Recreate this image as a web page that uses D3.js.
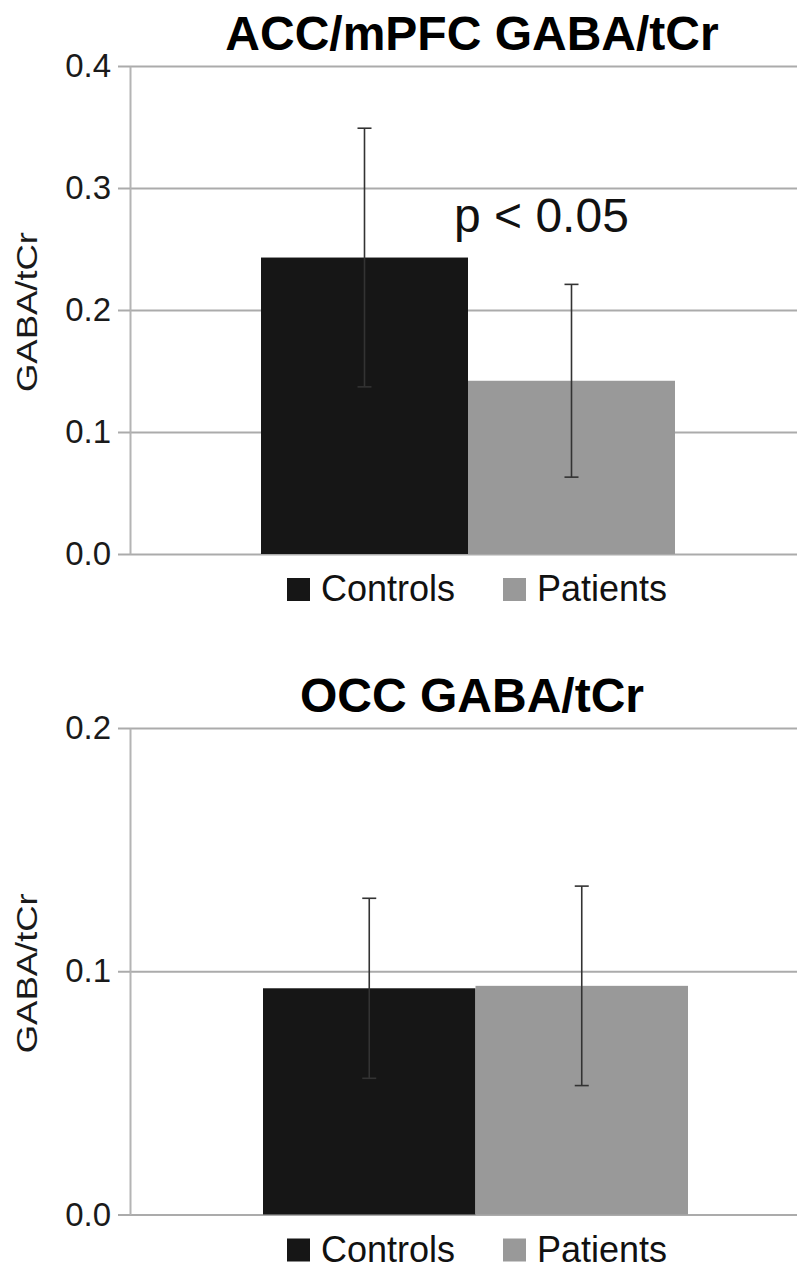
<!DOCTYPE html>
<html>
<head>
<meta charset="utf-8">
<script src="https://cdn.jsdelivr.net/npm/d3@7"></script>
<style>
  body { margin: 0; background: #fff; }
  svg text { font-family: "Liberation Sans", Arial, sans-serif; }
</style>
</head>
<body>
<div id="chart"></div>
<script>
// data
var groups = ["Controls", "Patients"];
var accMeans = [0.243, 0.142];
var accErr = [0.106, 0.079];
var accTicks = [0, 0.1, 0.2, 0.3, 0.4];
var occMeans = [0.093, 0.094];
var occErr = [0.037, 0.041];
var occTicks = [0, 0.1, 0.2];
var yLabel = "GABA/tCr";
var colors = ["#161616", "#999999"];

var W = 797, H = 1269;
var svg = d3.select("#chart").append("svg")
    .attr("width", W)
    .attr("height", H);

// panel layout (positions only)
var panels = [
    { title: "ACC/mPFC GABA/tCr", means: accMeans, err: accErr, ticks: accTicks,
      max: 0.4, top: 66, bottom: 554, bandL: 261, bandR: 675, note: "p < 0.05" },
    { title: "OCC GABA/tCr", means: occMeans, err: occErr, ticks: occTicks,
      max: 0.2, top: 728, bottom: 1214.5, bandL: 263, bandR: 688, note: null }
];
var axisX = 130;

panels.forEach(function(p) {
    var g = svg.append("g");
    var y = d3.scaleLinear().domain([0, p.max]).range([p.bottom, p.top]);
    var x = d3.scaleBand().domain(groups).range([p.bandL, p.bandR]).padding(0);

    // gridlines
    var grid = g.append("g")
        .attr("transform", "translate(" + axisX + ",0)")
        .call(d3.axisLeft(y).tickValues(p.ticks).tickSize(-(W - axisX)).tickFormat(""));
    grid.select(".domain").remove();
    grid.selectAll(".tick line").attr("stroke", "#ababab").attr("stroke-width", 2);

    // axis with outer ticks and labels
    var ax = g.append("g")
        .attr("transform", "translate(" + axisX + ",0)")
        .call(d3.axisLeft(y).tickValues(p.ticks).tickSize(12).tickSizeOuter(0)
            .tickPadding(7).tickFormat(d3.format(".1f")));
    ax.select(".domain").attr("stroke", "#b4b4b4").attr("stroke-width", 2);
    ax.selectAll(".tick line").attr("stroke", "#ababab").attr("stroke-width", 2);
    ax.selectAll(".tick text")
        .attr("font-size", "33px")
        .attr("fill", "#1a1a1a")
        .attr("font-family", "'Liberation Sans', Arial, sans-serif");

    // bars
    g.selectAll("rect.bar")
        .data(p.means)
        .enter()
        .append("rect")
        .attr("class", "bar")
        .attr("x", function(d, i) { return x(groups[i]); })
        .attr("y", function(d) { return y(d); })
        .attr("width", x.bandwidth())
        .attr("height", function(d) { return y(0) - y(d); })
        .attr("fill", function(d, i) { return colors[i]; });

    // error bars
    var eb = g.selectAll("g.err")
        .data(p.means)
        .enter()
        .append("g")
        .attr("class", "err")
        .attr("stroke", "#333")
        .attr("stroke-width", 1.6);
    eb.append("line")
        .attr("x1", function(d, i) { return x(groups[i]) + x.bandwidth() / 2; })
        .attr("x2", function(d, i) { return x(groups[i]) + x.bandwidth() / 2; })
        .attr("y1", function(d, i) { return y(d + p.err[i]); })
        .attr("y2", function(d, i) { return y(d - p.err[i]); });
    [1, -1].forEach(function(s) {
        eb.append("line")
            .attr("x1", function(d, i) { return x(groups[i]) + x.bandwidth() / 2 - 7; })
            .attr("x2", function(d, i) { return x(groups[i]) + x.bandwidth() / 2 + 7; })
            .attr("y1", function(d, i) { return y(d + s * p.err[i]); })
            .attr("y2", function(d, i) { return y(d + s * p.err[i]); });
    });

    // title
    g.append("text")
        .attr("x", 472)
        .attr("y", p.top - 16)
        .attr("text-anchor", "middle")
        .attr("font-size", "48px")
        .attr("font-weight", "bold")
        .attr("fill", "#000")
        .text(p.title);

    // y label
    g.append("text")
        .attr("transform", "translate(37," + ((p.top + p.bottom) / 2 + 2) + ") rotate(-90)")
        .attr("text-anchor", "middle")
        .attr("font-size", "30px")
        .attr("fill", "#1a1a1a")
        .attr("textLength", 160)
        .attr("lengthAdjust", "spacingAndGlyphs")
        .text(yLabel);

    // significance note
    if (p.note) {
        g.append("text")
            .attr("x", 454)
            .attr("y", 232)
            .attr("font-size", "48px")
            .attr("fill", "#111")
            .text(p.note);
    }

    // legend
    var legX = [287, 503];
    var leg = g.selectAll("g.leg")
        .data(groups)
        .enter()
        .append("g")
        .attr("class", "leg")
        .attr("transform", function(d, i) {
            return "translate(" + legX[i] + "," + (p.bottom + 24) + ")";
        });
    leg.append("rect")
        .attr("width", 23)
        .attr("height", 23)
        .attr("fill", function(d, i) { return colors[i]; });
    leg.append("text")
        .attr("x", 34)
        .attr("y", 23)
        .attr("font-size", "36px")
        .attr("fill", "#111")
        .text(function(d) { return d; });
});
</script>
</body>
</html>
